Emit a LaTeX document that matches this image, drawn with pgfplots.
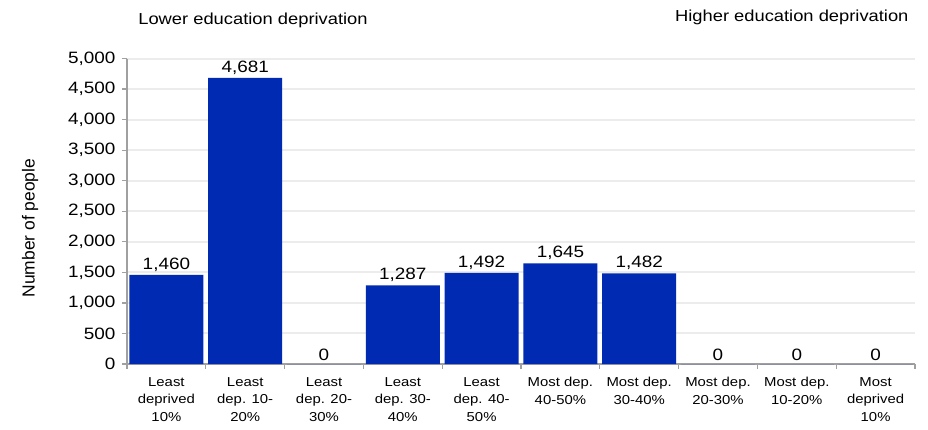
\documentclass[border=0pt]{standalone}
\usepackage{pgfplots}
\pgfplotsset{compat=1.18}
\usepackage{fontspec}
\setmainfont{Liberation Sans}[FakeStretch=1.15]
\newfontfamily\plainfont{Liberation Sans}
\definecolor{barblue}{RGB}{0,42,178}
\definecolor{axgray}{RGB}{160,160,160}
\definecolor{gridgray}{RGB}{236,236,236}
\begin{document}
\begin{tikzpicture}
\path[use as bounding box] (-127bp,-66bp) rectangle (801bp,364bp);
\begin{axis}[
  at={(0,0)}, anchor=south west, scale only axis,
  width=788bp, height=305.5bp,
  xmin=-0.5, xmax=9.5, ymin=0, ymax=5000,
  axis x line=bottom, axis y line=left,
  axis line style={axgray, line width=1.2bp, -},
  tick align=outside, major tick length=5bp,
  tick style={axgray, line width=1.2bp},
  ytick={0,500,...,5000},
  scaled y ticks=false,
  /pgf/number format/.cd, 1000 sep={,}, assume math mode=true, /pgfplots/.cd,
  yticklabel style={font=\fontsize{16.5}{19}\selectfont, black, xshift=-3bp},
  ymajorgrids, major grid style={gridgray, line width=2bp},
  xtick={-0.5,0.5,...,9.5},
  xticklabels={},
  extra x ticks={0,1,2,3,4,5,6,7,8,9},
  extra x tick labels={{Least\\deprived\\10\%},{Least\\dep. 10-\\20\%},{Least\\dep. 20-\\30\%},{Least\\dep. 30-\\40\%},{Least\\dep. 40-\\50\%},{Most dep.\\40-50\%},{Most dep.\\30-40\%},{Most dep.\\20-30\%},{Most dep.\\10-20\%},{Most\\deprived\\10\%}},
  extra x tick style={major tick length=0pt, xticklabel style={align=center, font=\fontsize{13}{17.5}\selectfont, anchor=north, yshift=-10bp}},
  ylabel={Number of people},
  every axis y label/.style={at={(axis description cs:-0.123,0.445)}, rotate=90, anchor=center, font=\plainfont\fontsize{17.5}{20}\selectfont},
  ybar, bar width=0.94,
  nodes near coords,
  nodes near coords style={font=\fontsize{16.5}{19}\selectfont, black, /pgf/number format/1000 sep={,}},
  clip=false,
]
\addplot[fill=barblue, draw=none] coordinates {(0,1460) (1,4681) (2,0) (3,1287) (4,1492) (5,1645) (6,1482) (7,0) (8,0) (9,0)};
\end{axis}
\node[font=\fontsize{16}{19}\selectfont, anchor=center] at (126bp,344bp) {Lower education deprivation};
\node[font=\fontsize{16}{19}\selectfont, anchor=east] at (785bp,347bp) {Higher education deprivation};
\end{tikzpicture}
\end{document}
